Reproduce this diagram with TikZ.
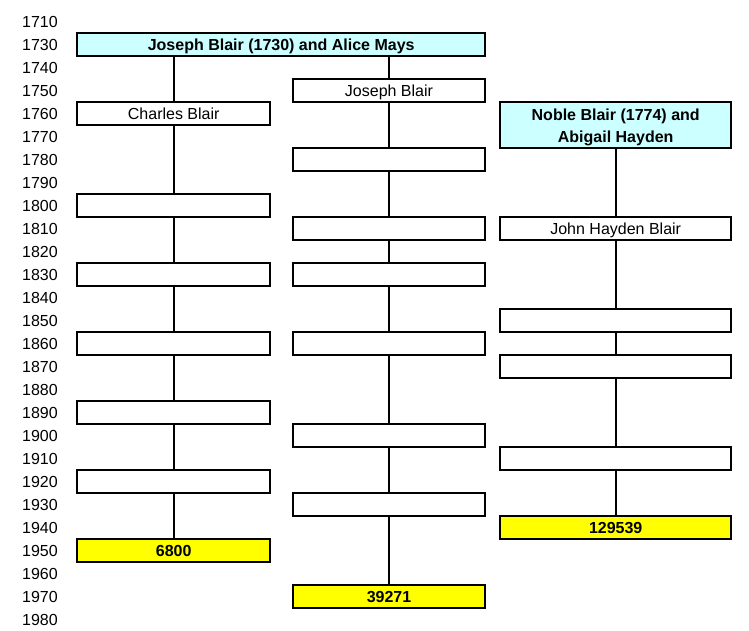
\documentclass[tikz,border=0pt]{standalone}
\usepackage{fontspec}
\setmainfont{Liberation Sans}
\definecolor{paleCyan}{HTML}{CCFFFF}
\definecolor{brightYellow}{HTML}{FFFF00}
\begin{document}
\begin{tikzpicture}[x=1pt,y=-1pt,
  every node/.style={font=\fontsize{16}{19}\selectfont, inner sep=0pt, text height=13pt, text depth=1.6pt},
  box/.style={draw=black, line width=2pt, minimum height=23pt, anchor=center},
  lbox/.style={box, minimum width=193.3pt},
  mbox/.style={box, minimum width=192.6pt},
  rbox/.style={box, minimum width=231.3pt},
  cyanbox/.style={fill=paleCyan, font=\bfseries\fontsize{16}{22}\selectfont},
  yelbox/.style={fill=brightYellow, font=\bfseries\fontsize{16}{19}\selectfont},
  link/.style={draw=black, line width=2pt},
  yearlbl/.style={anchor=east}
]
\useasboundingbox (0,0) rectangle (749,631);
% year axis
\foreach \yr [count=\i from 0] in {1710,1730,1740,...,1980}
  \node[yearlbl] (yr\yr) at (58,21.5+23*\i) {\yr};

% top couple
\node[box, cyanbox, minimum width=408.3pt] (top) at (281.2,44.5) {Joseph Blair (1730) and Alice Mays};

% left column
\node[lbox] (cb) at (173.7,113.5) {Charles Blair};
\node[lbox] (l1) at (173.7,205.5) {};
\node[lbox] (l2) at (173.7,274.5) {};
\node[lbox] (l3) at (173.7,343.5) {};
\node[lbox] (l4) at (173.7,412.5) {};
\node[lbox] (l5) at (173.7,481.5) {};
\node[lbox, yelbox] (l6) at (173.7,550.5) {6800};

% middle column
\node[mbox] (jb) at (389,90.5) {Joseph Blair};
\node[mbox] (m1) at (389,159.5) {};
\node[mbox] (m2) at (389,228.5) {};
\node[mbox] (m3) at (389,274.5) {};
\node[mbox] (m4) at (389,343.5) {};
\node[mbox] (m5) at (389,435.5) {};
\node[mbox] (m6) at (389,504.5) {};
\node[mbox, yelbox] (m7) at (389,596.5) {39271};

% right column
\node[rbox, cyanbox, minimum height=46pt, align=center, text height=, text depth=] (nb) at (615.7,125) {\rule{0pt}{16.5pt}Noble Blair (1774) and\\Abigail Hayden};
\node[rbox] (jhb) at (615.7,228.5) {John Hayden Blair};
\node[rbox] (r1) at (615.7,320.5) {};
\node[rbox] (r2) at (615.7,366.5) {};
\node[rbox] (r3) at (615.7,458.5) {};
\node[rbox, yelbox] (r4) at (615.7,527.5) {129539};

% connectors
\draw[link] (cb.north |- top.south) -- (cb.north);
\draw[link] (cb.south) -- (l1.north);
\draw[link] (l1.south) -- (l2.north);
\draw[link] (l2.south) -- (l3.north);
\draw[link] (l3.south) -- (l4.north);
\draw[link] (l4.south) -- (l5.north);
\draw[link] (l5.south) -- (l6.north);

\draw[link] (jb.north |- top.south) -- (jb.north);
\draw[link] (jb.south) -- (m1.north);
\draw[link] (m1.south) -- (m2.north);
\draw[link] (m2.south) -- (m3.north);
\draw[link] (m3.south) -- (m4.north);
\draw[link] (m4.south) -- (m5.north);
\draw[link] (m5.south) -- (m6.north);
\draw[link] (m6.south) -- (m7.north);

\draw[link] (nb.south) -- (jhb.north);
\draw[link] (jhb.south) -- (r1.north);
\draw[link] (r1.south) -- (r2.north);
\draw[link] (r2.south) -- (r3.north);
\draw[link] (r3.south) -- (r4.north);
\end{tikzpicture}
\end{document}
